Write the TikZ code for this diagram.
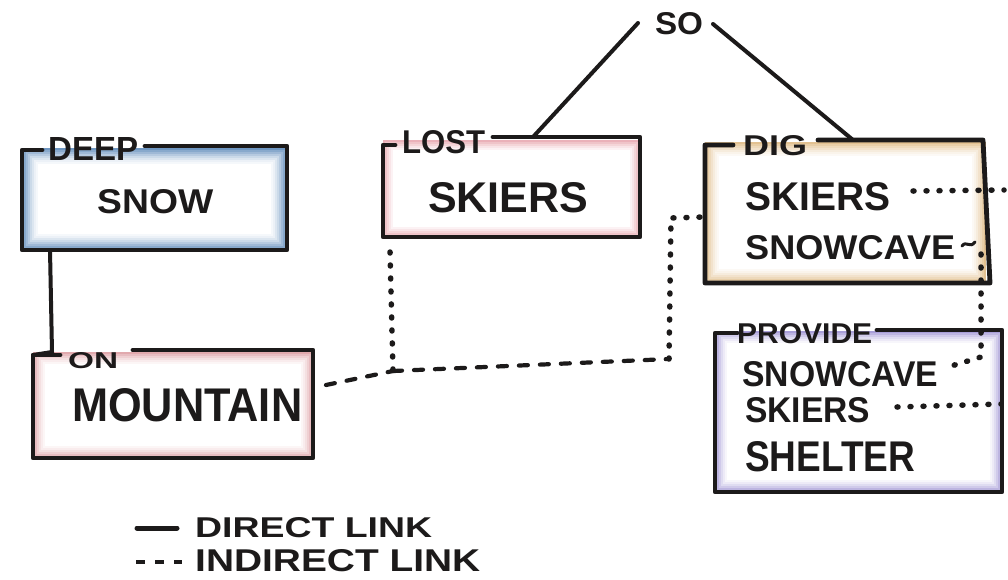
\documentclass[tikz,border=0pt]{standalone}
\usepackage{fontspec}
\setmainfont{Liberation Sans}
\usepackage{graphicx}
\definecolor{inkc}{HTML}{1C1A1A}
\definecolor{cblue}{HTML}{3F74AD}
\definecolor{cred}{HTML}{C9636A}
\definecolor{cpink}{HTML}{D9727F}
\definecolor{ctan}{HTML}{D3A055}
\definecolor{cpurp}{HTML}{7B6BC4}
\newcommand{\hw}[3]{\resizebox{#1pt}{#2pt}{\bfseries #3}}
\newcommand{\pencilbox}[6]{%
  \foreach \i/\c in {#6}{\fill[#1!\c] (#2+\i,#3+\i) rectangle (#4-\i,#5-\i);}}
\begin{document}
\begin{tikzpicture}[x=1pt,y=-1pt,
  ink/.style={line width=4.8pt, draw=inkc, line cap=round, line join=round},
  direct/.style={line width=4pt, draw=inkc, line cap=round},
  idots/.style={line width=5.5pt, draw=inkc, line cap=round, dash pattern=on 1pt off 12pt},
  idash/.style={line width=4.2pt, draw=inkc, line cap=round, dash pattern=on 9pt off 12pt},
  txt/.style={anchor=base west, inner sep=0pt, text=inkc}]
\useasboundingbox[fill=white] (0,0) rectangle (1008,579);

% pencil shading
\pencilbox{cblue}{22}{148}{287}{250}{0/75,2/62,4/50,6/38,8/27,10/18,12/10,14/5,16/0}
\pencilbox{cred}{33}{352}{313}{458}{0/55,2/42,4/30,6/20,8/12,10/6,12/0}
\pencilbox{cpink}{383}{140}{640}{237}{0/55,2/42,4/30,6/18,8/9,10/0}
\pencilbox{ctan}{705}{142}{986}{283}{0/65,2/52,4/40,6/30,8/20,10/12,12/6,14/0}
\pencilbox{cpurp}{715}{331}{1002}{492}{0/65,2/50,4/36,6/24,8/14,10/6,12/0}

% box outlines
\coordinate (deepTL) at (22,150);
\coordinate (deepS) at (50,250);
\draw[ink] (145,146) -- (287,146) -- (287,250) -- (22,250) -- (deepTL) -- (42,150);
\coordinate (onTL) at (33,355);
\draw[ink] (133,350) -- (313,350) -- (313,458) -- (33,458) -- (onTL) -- (60,355);
\coordinate (lostTop) at (533,137);
\draw[ink] (493,137) -- (640,137) -- (640,237) -- (383,237) -- (383,145) -- (395,145);
\coordinate (digTop) at (853,140);
\draw[ink] (818,140) -- (983,140) -- (990,283) -- (705,283) -- (705,145) -- (733,145);
\draw[ink] (877,330) -- (1002,330) -- (1002,492) -- (715,492) -- (715,333) -- (737,333);

% texts
\node[txt] (deep) at (48,160) {\hw{90}{23}{DEEP}};
\node[txt] (snow) at (97,213) {\hw{116}{24}{SNOW}};
\node[txt] (on) at (68,368) {\hw{50}{16}{ON}};
\node[txt] (mountain) at (72,421) {\hw{230}{33}{MOUNTAIN}};
\node[txt] (lost) at (402,153) {\hw{83}{23}{LOST}};
\node[txt] (lskiers) at (428,212) {\hw{160}{30}{SKIERS}};
\node[inner sep=0pt, text=inkc] (so) at (679,24) {\hw{48}{22}{SO}};
\node[txt] (dig) at (743,155) {\hw{64}{20}{DIG}};
\node[txt] (dskiers) at (745,210) {\hw{145}{28}{SKIERS}};
\node[txt] (dsnow) at (745,259) {\hw{210}{24}{SNOWCAVE}};
\node[txt] (provide) at (737,343) {\hw{135}{20}{PROVIDE}};
\node[txt] (psnow) at (742,386) {\hw{196}{25}{SNOWCAVE}};
\node[txt] (pskiers) at (745,422) {\hw{125}{25}{SKIERS}};
\node[txt] (shelter) at (745,471) {\hw{170}{30}{SHELTER}};
\node[txt] (ldirect) at (195,537) {\hw{237}{20}{DIRECT LINK}};
\node[txt] (lindirect) at (195,571) {\hw{285}{22}{INDIRECT LINK}};

% direct links
\draw[direct] (deepS) -- (52,352) -- (onTL);
\coordinate (soL) at (638,23);
\coordinate (soR) at (713,24);
\draw[direct] (soL) -- (lostTop);
\draw[direct] (soR) -- (digTop);

% indirect links
\coordinate (mtE) at (326,385);
\coordinate (jn) at (393,371);
\coordinate (lostB) at (390,252);
\coordinate (crn) at (669,359);
\coordinate (crn2) at (671,218);
\coordinate (digW) at (703,217);
\draw[idash] (mtE) -- (jn);
\draw[idots] (lostB) -- (jn);
\draw[idash] (jn) -- (crn);
\draw[idots] (crn) -- (crn2) -- (digW);
\coordinate (dskE) at (913,191);
\coordinate (rA) at (1004,190);
\draw[idots] (dskE) -- (rA);
\draw[line width=3pt, draw=inkc, line cap=round] (962,246) .. controls (966,240) and (970,249) .. (975,242);
\coordinate (dsv1) at (981,254);
\coordinate (dsv2) at (981,357);
\coordinate (psE) at (948,367);
\draw[idots] (dsv1) -- (dsv2) -- (psE);
\coordinate (pskE) at (897,407);
\coordinate (rB) at (1001,404);
\draw[idots] (pskE) -- (rB);

% legend
\coordinate (lgA) at (137,528);
\coordinate (lgB) at (177,528);
\draw[line width=5pt, draw=inkc, line cap=round] (lgA) -- (lgB);
\coordinate (lgC) at (136,562);
\coordinate (lgD) at (182,562);
\draw[line width=4pt, draw=inkc, dash pattern=on 9pt off 10pt] (lgC) -- (lgD);
\end{tikzpicture}
\end{document}
